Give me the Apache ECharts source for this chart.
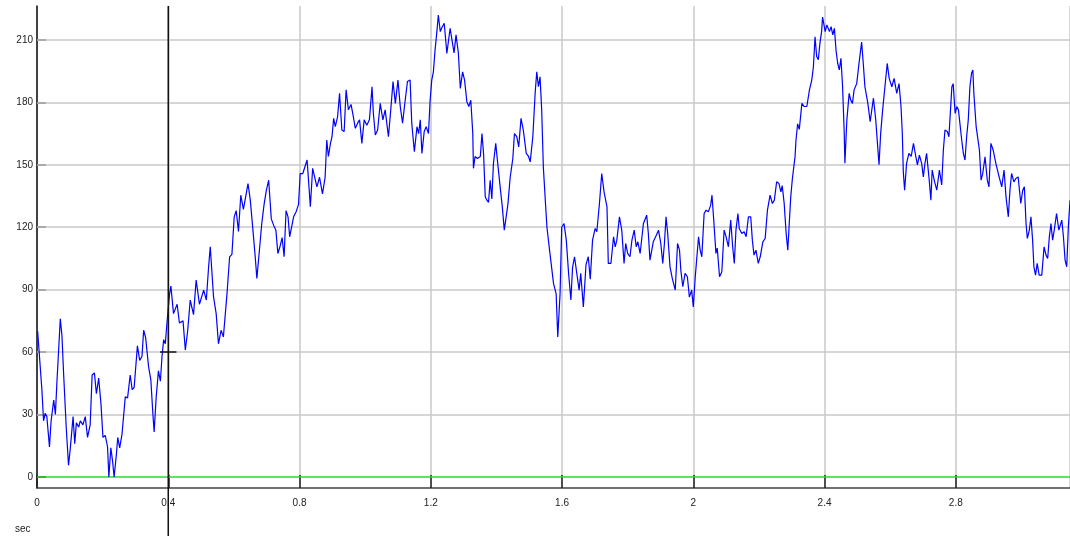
<!DOCTYPE html>
<html><head><meta charset="utf-8">
<script src="https://cdn.jsdelivr.net/npm/echarts@6/dist/echarts.min.js"></script>
<style>html,body{margin:0;padding:0;background:#fff}#c{width:1070px;height:536px}</style>
</head><body><div id="c"></div>
<script>
const times = [
0.002,0.015,0.020,0.025,0.030,0.038,0.043,0.051,0.056,0.061,0.071,0.076,0.081,0.089,0.096,0.101,0.110,0.115,0.120,0.127,
0.132,0.140,0.147,0.154,0.162,0.168,0.175,0.181,0.188,0.195,0.201,0.208,0.215,0.219,0.225,0.230,0.235,0.242,0.246,0.252,
0.259,0.269,0.276,0.284,0.290,0.296,0.306,0.313,0.320,0.325,0.331,0.340,0.347,0.353,0.357,0.363,0.370,0.376,0.381,0.386,
0.391,0.396,0.404,0.408,0.416,0.427,0.434,0.445,0.452,0.459,0.467,0.477,0.485,0.495,0.508,0.516,0.523,0.528,0.538,0.546,
0.553,0.561,0.568,0.579,0.587,0.594,0.601,0.607,0.614,0.621,0.629,0.635,0.643,0.650,0.658,0.665,0.670,0.676,0.685,0.692,
0.699,0.706,0.714,0.721,0.728,0.734,0.741,0.747,0.753,0.759,0.765,0.770,0.775,0.782,0.790,0.797,0.802,0.810,0.815,0.823,
0.827,0.833,0.840,0.846,0.853,0.861,0.870,0.878,0.883,0.888,0.894,0.899,0.904,0.909,0.916,0.922,0.929,0.936,0.942,0.949,
0.957,0.963,0.970,0.977,0.983,0.990,0.997,1.005,1.013,1.021,1.025,1.031,1.038,1.046,1.054,1.061,1.071,1.078,1.085,1.092,
1.100,1.107,1.114,1.122,1.129,1.137,1.142,1.150,1.158,1.163,1.168,1.173,1.180,1.186,1.193,1.198,1.203,1.208,1.213,1.219,
1.223,1.229,1.234,1.241,1.249,1.254,1.259,1.266,1.271,1.277,1.284,1.290,1.297,1.303,1.310,1.316,1.322,1.328,1.330,1.335,
1.342,1.351,1.356,1.361,1.366,1.371,1.376,1.381,1.386,1.391,1.398,1.404,1.411,1.418,1.424,1.429,1.435,1.442,1.450,1.455,
1.462,1.468,1.475,1.482,1.491,1.498,1.503,1.511,1.518,1.523,1.528,1.533,1.538,1.543,1.549,1.554,1.562,1.574,1.582,1.587,
1.594,1.599,1.606,1.613,1.620,1.627,1.632,1.638,1.645,1.652,1.657,1.665,1.673,1.680,1.686,1.693,1.701,1.706,1.714,1.721,
1.728,1.737,1.741,1.749,1.757,1.762,1.767,1.775,1.782,1.789,1.794,1.800,1.807,1.813,1.820,1.826,1.831,1.838,1.848,1.858,
1.863,1.868,1.878,1.887,1.894,1.901,1.907,1.912,1.917,1.922,1.929,1.936,1.945,1.952,1.958,1.962,1.968,1.975,1.982,1.988,
1.995,2.000,2.006,2.011,2.016,2.021,2.026,2.033,2.039,2.046,2.053,2.057,2.063,2.069,2.073,2.080,2.087,2.094,2.100,2.107,
2.114,2.120,2.125,2.130,2.136,2.140,2.148,2.155,2.161,2.168,2.175,2.180,2.185,2.191,2.198,2.204,2.212,2.219,2.226,2.234,
2.241,2.247,2.254,2.261,2.267,2.271,2.277,2.283,2.288,2.293,2.297,2.302,2.310,2.313,2.318,2.323,2.331,2.338,2.346,2.354,
2.361,2.366,2.371,2.376,2.381,2.386,2.391,2.394,2.402,2.407,2.415,2.420,2.425,2.430,2.435,2.440,2.445,2.450,2.455,2.460,
2.462,2.468,2.475,2.480,2.485,2.490,2.498,2.505,2.513,2.518,2.523,2.532,2.539,2.544,2.549,2.556,2.562,2.566,2.571,2.577,
2.584,2.591,2.597,2.605,2.612,2.620,2.627,2.633,2.637,2.640,2.644,2.650,2.657,2.664,2.671,2.678,2.683,2.689,2.696,2.701,
2.706,2.711,2.719,2.724,2.728,2.735,2.742,2.750,2.757,2.762,2.767,2.774,2.779,2.785,2.788,2.792,2.798,2.803,2.808,2.813,
2.818,2.823,2.828,2.833,2.838,2.843,2.848,2.852,2.855,2.862,2.867,2.872,2.877,2.882,2.889,2.896,2.901,2.907,2.914,2.922,
2.926,2.932,2.940,2.947,2.953,2.960,2.965,2.970,2.977,2.983,2.990,2.998,3.004,3.009,3.014,3.018,3.024,3.029,3.034,3.038,
3.043,3.048,3.054,3.062,3.069,3.075,3.080,3.085,3.090,3.095,3.100,3.107,3.114,3.123,3.128,3.133,3.138,3.143,3.148
];
const values = [
70,41.7,27,30.6,29,14.4,27,37,30,46.5,76,68,50,24,5.6,13,29,16,26,24,
27,25,29,19,25,49,50,40,47.5,35,19,20,14.4,0,14,8,0,11,19,14,
20.5,38.5,38,49,42,43,63,56,58,70.5,67,53,46.5,30.6,21.6,38,51,46,58,66,
64,74,88,91.7,78.5,83,74,75,61,70,85,78,94.6,83,89.8,85,101,110.6,86.5,78.5,
64,70.5,67.3,88,105.8,107,125,128,118,135.4,128.6,127.7,141,133,118.6,105.8,95.4,105.8,121.8,131,
137.8,142.6,124,121,118.6,107.4,111,115,105.8,128,125,115.4,114.6,125,127.6,131,145.8,145.8,145,152.3,
143.6,129.8,148.3,148.3,139.4,144,136,144,161.9,154,160,163.5,172.3,168.3,173,184.3,166.7,166,186,176.4,
179,174,167.5,170,171.6,160.3,171.6,169,171.6,187.5,174.8,164.3,166.7,179.5,171.6,176.4,163.5,176.4,190,179.5,
190.7,178,170,181,190,190.7,170,156.3,168.3,165,171.6,155.5,166,168.3,165,181,190.7,194.7,205,214.7,
222,214,216,218,203.5,203,215.6,208.6,203.8,212.4,203.8,186.7,194.7,190.7,180.3,178,181,165,148.3,154,
153,154,165,155,134.6,133,132,142.6,133.6,150.7,160.3,150.7,140,129.8,118.6,118.6,131,144,153,165,
163.5,158.6,172.3,166.7,155.5,154,151.4,163.5,184.3,194.7,187.5,192.3,176.4,149,133,120,109,93,88,67.3,
88,120,121.8,113.8,97.8,85,100.6,105.8,97.8,89.8,97.8,81.7,102,105.8,95,113.8,119.4,117.8,131.4,145.8,
137,129.8,102.6,102.6,115.4,110.6,113.8,125,118.6,102.6,112.2,107.4,105.8,113.8,118.6,110.6,113,107.4,121.8,125.8,
117,104.2,113,116,118.6,112.2,102.6,112.2,125,117,101,95.4,89.8,112.2,109,99.4,91.4,97.8,96.2,86.5,
89.8,81.7,96.2,105.8,115.4,109,105.8,126.6,128.2,127.4,130.6,135.4,121.8,107.4,110,96.2,98.6,118.6,115.4,110.6,
123.4,110.6,102.6,118.6,126.6,119.4,117,117.8,115.4,125,125,113.8,106.6,109,102.6,105.8,113,114.6,128.2,135.4,
131.4,133,141.8,141,137,140,131.4,117,109,123.4,134.6,143.4,153.8,161.9,169.7,167,179.5,178,178,186,
190.7,197,211.5,202,200.5,208.6,214,221,214,217.2,214,216.4,212.4,215.6,205,198.8,195.6,201.2,187.5,165,
150.7,171.6,184.3,181,179.5,186,189,198.7,209,198.7,187.5,179.5,170.7,176.4,182,171.6,158.6,150,165,176.4,
187.5,198.7,191.5,187.5,191.5,184.3,189,178,165,146.6,137.8,150.7,155.5,154,160.3,154,150,154.6,150.7,144.2,
150.7,155.5,142.6,133,147.5,142,137.8,147.5,140.3,157,166.7,166,163.5,179.5,187.5,189,174.7,178,176.4,175.6,
161.9,155.5,152.3,163.5,171.6,187.5,194,195.5,184.3,168.3,162.7,157,142.6,145.8,153.8,142.6,139.4,160.3,157,150.7,
150.7,144.2,139.4,147.5,134.6,125,137.8,145.8,141.8,143.4,144.2,131.4,137.8,139.4,121.8,114.6,118.6,125,113.8,101,
97,102.6,97,97,110.6,106.6,105,115.4,121.8,113.8,118.6,126.6,118.6,123.4,115.4,104.2,101,120.2,133
];
const yTicks = [0, 30, 60, 90, 120, 150, 180, 210];
const xTickStep = 0.4;
const xRange = [0, 3.148];
const yRange = [-5.3, 226.3];
const cursorTime = 0.4;
const cursorValue = 60;
const crossHalfWidth = 0.025;

const signal = times.map((t, i) => [t, values[i]]);
const font = 'Liberation Sans, Arial, sans-serif';
const chart = echarts.init(document.getElementById('c'), null, {renderer: 'canvas'});
chart.setOption({
  animation: false,
  backgroundColor: '#ffffff',
  title: {text: 'sec', left: 10, top: 519, textStyle: {fontSize: 10, fontWeight: 'normal', color: '#222', fontFamily: font}},
  grid: [
    {left: 37, right: 0, top: 6, bottom: 48},
    {left: 37, right: 0, top: 6, bottom: 0}
  ],
  xAxis: [
    {type: 'value', gridIndex: 0, min: xRange[0], max: xRange[1], interval: xTickStep,
     axisLine: {onZero: false, lineStyle: {color: '#444', width: 1.5}},
     axisTick: {inside: true, length: 13, lineStyle: {color: '#222', width: 1.5}},
     axisLabel: {showMaxLabel: false, margin: 10, fontSize: 10, color: '#222', fontFamily: font},
     splitLine: {show: true, lineStyle: {color: '#c8c8c8', width: 1.5}}},
    {type: 'value', gridIndex: 1, min: xRange[0], max: xRange[1], show: false}
  ],
  yAxis: [
    {type: 'value', gridIndex: 0, min: yRange[0], max: yRange[1],
     axisLine: {show: true, onZero: false, lineStyle: {color: '#111', width: 1.5}},
     axisTick: {show: true, inside: true, length: 9, customValues: yTicks, lineStyle: {color: '#111', width: 1.5}},
     axisLabel: {customValues: yTicks, margin: 4, fontSize: 10, color: '#222', fontFamily: font},
     splitLine: {show: false}},
    {type: 'value', gridIndex: 1, min: 0, max: 1, show: false}
  ],
  series: [
    {type: 'line', xAxisIndex: 0, yAxisIndex: 0, data: [], silent: true, z: 1,
     markLine: {silent: true, symbol: 'none', z: 1, label: {show: false},
       lineStyle: {color: '#c8c8c8', width: 1.5, type: 'solid'},
       data: yTicks.filter(v => v !== 0).map(v => ({yAxis: v}))}},
    {type: 'line', xAxisIndex: 0, yAxisIndex: 0, data: [], silent: true, z: 1,
     markLine: {silent: true, symbol: 'none', z: 1, label: {show: false},
       lineStyle: {color: '#22e022', width: 1.5, type: 'solid'},
       data: [{yAxis: 0}]}},
    {type: 'line', xAxisIndex: 0, yAxisIndex: 0, data: signal, showSymbol: false, symbol: 'none',
     lineStyle: {color: '#0000ff', width: 1.2}, z: 3, silent: true},
    {type: 'line', xAxisIndex: 1, yAxisIndex: 1, data: [[cursorTime, 0], [cursorTime, 1]], symbol: 'none',
     lineStyle: {color: '#111', width: 1.5}, z: 4, silent: true},
    {type: 'line', xAxisIndex: 0, yAxisIndex: 0,
     data: [[cursorTime - crossHalfWidth, cursorValue], [cursorTime + crossHalfWidth, cursorValue]], symbol: 'none',
     lineStyle: {color: '#111', width: 1.5}, z: 5, silent: true}
  ]
});
</script>
</body></html>
